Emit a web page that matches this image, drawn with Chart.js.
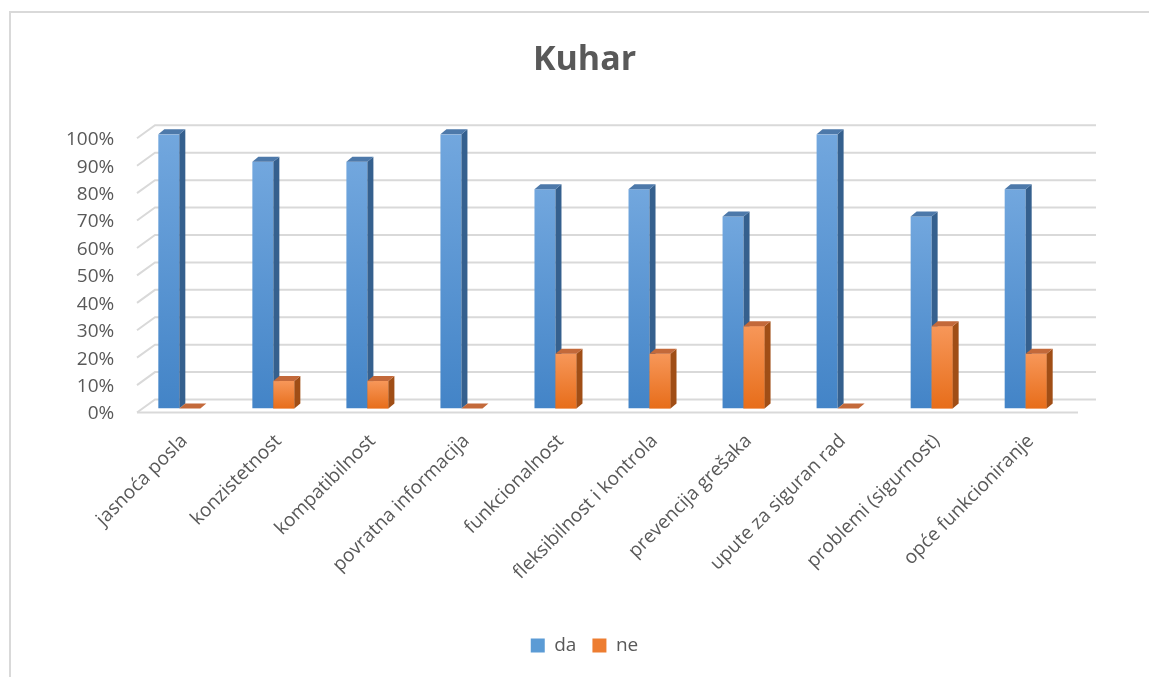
<!DOCTYPE html>
<html>
<head>
<meta charset="utf-8">
<title>Kuhar</title>
<script src="https://cdn.jsdelivr.net/npm/chart.js@4.4.1/dist/chart.umd.min.js"></script>
<style>
    html, body { margin: 0; padding: 0; background: #ffffff; }
    #wrap { width: 1149px; height: 677px; position: relative; }
</style>
</head>
<body>
<div id="wrap"><canvas id="kuharChart"></canvas></div>
<script>
// Podaci
const categories = [
    'jasnoća posla', 'konzistetnost', 'kompatibilnost', 'povratna informacija',
    'funkcionalnost', 'fleksibilnost i kontrola', 'prevencija grešaka',
    'upute za siguran rad', 'problemi (sigurnost)', 'opće funkcioniranje'
];
const daValues = [100, 90, 90, 100, 80, 80, 70, 100, 70, 80];
const neValues = [0, 10, 10, 0, 20, 20, 30, 0, 30, 20];
const yTickValues = [0, 10, 20, 30, 40, 50, 60, 70, 80, 90, 100];

const TEXT_COLOR = '#595959';
const GRID_COLOR = '#d9d9d9';

// boje za 3D stupce
const colors = {
    da: { top: '#72a7de', bottom: '#4384c7', side: '#35608e', cap: '#4d79aa', legend: '#5b9bd5' },
    ne: { top: '#f79759', bottom: '#e76d1a', side: '#a04e16', cap: '#c3693a', legend: '#ed7d31' }
};

function gradientFor(key) {
    return function(ctx) {
        const chart = ctx.chart;
        const yScale = chart.scales.y;
        if (!chart.chartArea || !yScale) return colors[key].bottom;
        const top = yScale.getPixelForValue(ctx.raw || 0);
        let bottom = yScale.getPixelForValue(0);
        if (bottom - top < 1) bottom = top + 1;
        const g = chart.ctx.createLinearGradient(0, top, 0, bottom);
        g.addColorStop(0, colors[key].top);
        g.addColorStop(1, colors[key].bottom);
        return g;
    };
}

function drawFaces(ctx, meta, key) {
    const dx = 6, dy = 5;
    meta.data.forEach(function(bar) {
        const p = bar.getProps(['x', 'y', 'base', 'width'], true);
        const l = p.x - p.width / 2;
        const r = p.x + p.width / 2;
        // bočna strana
        ctx.fillStyle = colors[key].side;
        ctx.beginPath();
        ctx.moveTo(r, p.y);
        ctx.lineTo(r + dx, p.y - dy);
        ctx.lineTo(r + dx, p.base - dy);
        ctx.lineTo(r, p.base);
        ctx.closePath();
        ctx.fill();
        // gornja strana
        ctx.fillStyle = colors[key].cap;
        ctx.beginPath();
        ctx.moveTo(l, p.y);
        ctx.lineTo(l + dx, p.y - dy);
        ctx.lineTo(r + dx, p.y - dy);
        ctx.lineTo(r, p.y);
        ctx.closePath();
        ctx.fill();
    });
}

// okvir, zidovi i 3D strane stupaca
const threeD = {
    id: 'threeD',
    beforeDraw(chart) {
        const ctx = chart.ctx;
        ctx.save();
        ctx.strokeStyle = GRID_COLOR;
        ctx.lineWidth = 2;
        ctx.beginPath();
        ctx.moveTo(10, 677);
        ctx.lineTo(10, 12);
        ctx.lineTo(1149, 12);
        ctx.stroke();
        ctx.restore();
    },
    beforeDatasetsDraw(chart) {
        const ctx = chart.ctx;
        const area = chart.chartArea;
        const yScale = chart.scales.y;
        ctx.save();
        ctx.strokeStyle = GRID_COLOR;
        ctx.lineWidth = 2;
        yTickValues.forEach(function(v) {
            const yF = yScale.getPixelForValue(v) - 1.5;
            const yB = yF - 13;
            ctx.beginPath();
            ctx.moveTo(area.left + 4.7, yF);
            ctx.lineTo(area.left + 22.7, yB);
            ctx.lineTo(area.right + 23.3, yB);
            ctx.stroke();
        });
        const y0 = yScale.getPixelForValue(0) - 1.5;
        ctx.beginPath();
        ctx.moveTo(area.left + 4.7, y0);
        ctx.lineTo(area.right + 5.3, y0);
        ctx.stroke();
        ctx.restore();

        // stupci stoje malo dublje od prednjeg ruba poda
        ctx.save();
        ctx.translate(0, -5.5);
    },
    afterDatasetsDraw(chart) {
        const ctx = chart.ctx;
        const daMeta = chart.getDatasetMeta(0);
        const neMeta = chart.getDatasetMeta(1);
        drawFaces(ctx, daMeta, 'da');
        // narančasti stupci ispred bočne strane plavih
        neMeta.data.forEach(function(bar) { bar.draw(ctx, chart.chartArea); });
        drawFaces(ctx, neMeta, 'ne');
        ctx.restore();
    }
};

const chartCtx = document.getElementById('kuharChart').getContext('2d');
const kuharChart = new Chart(chartCtx, {
    type: 'bar',
    data: {
        labels: categories,
        datasets: [
            {
                label: 'da',
                data: daValues,
                backgroundColor: gradientFor('da'),
                borderWidth: 0
            },
            {
                label: 'ne',
                data: neValues,
                backgroundColor: gradientFor('ne'),
                borderWidth: 0
            }
        ]
    },
    options: {
        responsive: true,
        maintainAspectRatio: false,
        animation: false,
        events: [],
        layout: {
            padding: { left: 20, right: 0, top: 0, bottom: 12 }
        },
        datasets: {
            bar: { barPercentage: 1, categoryPercentage: 0.4466 }
        },
        plugins: {
            title: {
                display: true,
                text: 'Kuhar',
                color: TEXT_COLOR,
                font: { family: "'Open Sans', sans-serif", size: 34, weight: 'bold' },
                padding: { top: 40, bottom: 59 }
            },
            legend: {
                display: true,
                position: 'bottom',
                labels: {
                    color: TEXT_COLOR,
                    font: { family: "'Open Sans', sans-serif", size: 19 },
                    boxWidth: 14,
                    boxHeight: 14,
                    padding: 16,
                    generateLabels: function(chart) {
                        const items = Chart.defaults.plugins.legend.labels.generateLabels(chart);
                        items.forEach(function(item) {
                            const c = item.datasetIndex === 0 ? colors.da.legend : colors.ne.legend;
                            item.fillStyle = c;
                            item.strokeStyle = c;
                            item.lineWidth = 0;
                        });
                        return items;
                    }
                }
            },
            tooltip: { enabled: false }
        },
        scales: {
            x: {
                grid: { display: false, drawTicks: false },
                border: { display: false },
                ticks: {
                    autoSkip: false,
                    maxRotation: 45,
                    minRotation: 45,
                    padding: 16,
                    labelOffset: 5,
                    color: TEXT_COLOR,
                    font: { family: "'Open Sans', sans-serif", size: 19 }
                },
                afterFit: function(scale) { scale.height = 206; }
            },
            y: {
                min: 0,
                max: 100,
                grid: { display: false, drawTicks: false },
                border: { display: false },
                ticks: {
                    stepSize: 10,
                    padding: 18,
                    color: TEXT_COLOR,
                    font: { family: "'Open Sans', sans-serif", size: 19 },
                    callback: function(value) { return value + '%'; }
                },
                afterFit: function(scale) { scale.width = 112.3; }
            },
            yRight: {
                position: 'right',
                display: true,
                grid: { display: false, drawTicks: false },
                border: { display: false },
                ticks: { display: false },
                afterFit: function(scale) { scale.width = 76.3; }
            }
        }
    },
    plugins: [threeD]
});
</script>
</body>
</html>
